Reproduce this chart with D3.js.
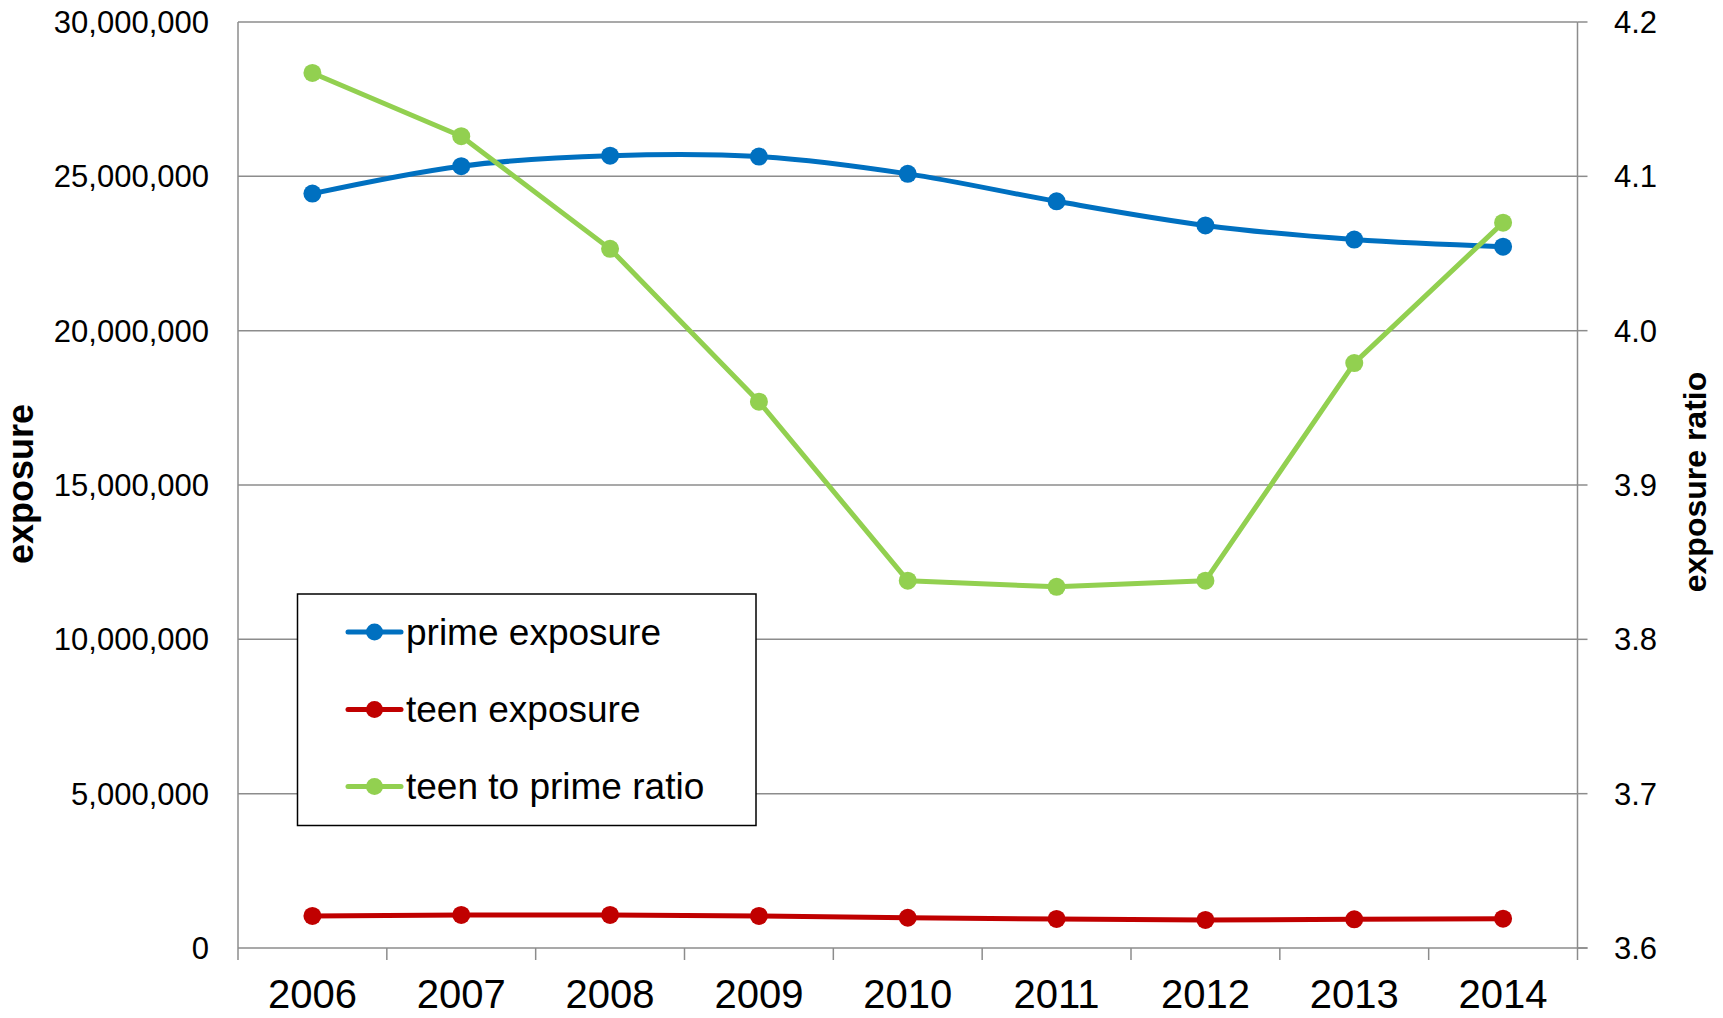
<!DOCTYPE html>
<html>
<head>
<meta charset="utf-8">
<script src="https://cdn.jsdelivr.net/npm/d3@7"></script>
<style>
  html, body { margin: 0; padding: 0; background: #fff; }
  svg { display: block; font-family: "Liberation Sans", Arial, sans-serif; }
</style>
</head>
<body>
<svg id="chart" width="1723" height="1018"></svg>
<script>
const years = ["2006","2007","2008","2009","2010","2011","2012","2013","2014"];
const primeExposure = [24440000, 25330000, 25670000, 25640000, 25080000, 24190000, 23410000, 22950000, 22720000];
const teenExposure  = [1040000, 1070000, 1070000, 1040000, 980000, 940000, 910000, 930000, 950000];
const teenPrimeRatio = [4.167, 4.126, 4.053, 3.954, 3.838, 3.834, 3.838, 3.979, 4.070];
const leftTicks = [0, 5000000, 10000000, 15000000, 20000000, 25000000, 30000000];
const rightTicks = [3.6, 3.7, 3.8, 3.9, 4.0, 4.1, 4.2];
const seriesNames = ["prime exposure", "teen exposure", "teen to prime ratio"];
const seriesColors = ["#0070C0", "#C00000", "#92D050"];

const svg = d3.select("#chart");
const L = 238, R = 1577.5, T = 22, B = 948;

const x = d3.scaleBand().domain(years).range([L, R]).paddingInner(0).paddingOuter(0);
const yL = d3.scaleLinear().domain([0, 30000000]).range([B, T]);
const yR = d3.scaleLinear().domain([3.6, 4.2]).range([B, T]);
const cx = d => x(d) + x.bandwidth() / 2;

const gridColor = "#8c8c8c";

// gridlines
svg.append("g").selectAll("line").data(leftTicks.filter(v => v > 0)).join("line")
  .attr("x1", L).attr("x2", R)
  .attr("y1", d => yL(d)).attr("y2", d => yL(d))
  .attr("stroke", gridColor).attr("stroke-width", 1.5);

// left axis line
svg.append("line").attr("x1", L).attr("x2", L).attr("y1", T).attr("y2", B)
  .attr("stroke", gridColor).attr("stroke-width", 1.5);
// right axis line
svg.append("line").attr("x1", R).attr("x2", R).attr("y1", T).attr("y2", B)
  .attr("stroke", gridColor).attr("stroke-width", 1.5);
// right axis ticks
svg.append("g").selectAll("line").data(rightTicks).join("line")
  .attr("x1", R).attr("x2", R + 10)
  .attr("y1", d => yR(d)).attr("y2", d => yR(d))
  .attr("stroke", gridColor).attr("stroke-width", 1.5);
// bottom axis
svg.append("line").attr("x1", L).attr("x2", R + 10).attr("y1", B).attr("y2", B)
  .attr("stroke", gridColor).attr("stroke-width", 1.5);
const boundaries = years.map(y => x(y)).concat([R]);
svg.append("g").selectAll("line").data(boundaries).join("line")
  .attr("x1", d => d).attr("x2", d => d)
  .attr("y1", B).attr("y2", B + 12)
  .attr("stroke", gridColor).attr("stroke-width", 1.5);

// left tick labels
const fmt = d3.format(",");
svg.append("g").selectAll("text").data(leftTicks).join("text")
  .attr("x", 209).attr("y", d => yL(d) + 11)
  .attr("text-anchor", "end").attr("font-size", 31).attr("fill", "#000")
  .text(d => fmt(d));
// right tick labels
svg.append("g").selectAll("text").data(rightTicks).join("text")
  .attr("x", 1614).attr("y", d => yR(d) + 11)
  .attr("text-anchor", "start").attr("font-size", 31).attr("fill", "#000")
  .text(d => d.toFixed(1));
// x labels
svg.append("g").selectAll("text").data(years).join("text")
  .attr("x", d => cx(d)).attr("y", 1008)
  .attr("text-anchor", "middle").attr("font-size", 40).attr("fill", "#000")
  .text(d => d);

// axis titles
svg.append("text")
  .attr("transform", `translate(33,484) rotate(-90)`)
  .attr("text-anchor", "middle").attr("font-size", 36).attr("font-weight", "bold")
  .text("exposure");
svg.append("text")
  .attr("transform", `translate(1706,482) rotate(-90)`)
  .attr("text-anchor", "middle").attr("font-size", 32).attr("font-weight", "bold")
  .text("exposure ratio");

// series
const series = [
  { vals: primeExposure, scale: yL, color: seriesColors[0], curve: d3.curveCatmullRom.alpha(0.5) },
  { vals: teenExposure, scale: yL, color: seriesColors[1], curve: d3.curveLinear },
  { vals: teenPrimeRatio, scale: yR, color: seriesColors[2], curve: d3.curveLinear }
];
series.forEach(s => {
  const line = d3.line().x((d, i) => cx(years[i])).y(d => s.scale(d)).curve(s.curve);
  svg.append("path").datum(s.vals).attr("d", line)
    .attr("fill", "none").attr("stroke", s.color).attr("stroke-width", 5)
    .attr("stroke-linejoin", "round").attr("stroke-linecap", "round");
  svg.append("g").selectAll("circle").data(s.vals).join("circle")
    .attr("cx", (d, i) => cx(years[i])).attr("cy", d => s.scale(d))
    .attr("r", 9).attr("fill", s.color);
});

// legend
const lg = svg.append("g");
lg.append("rect").attr("x", 297.5).attr("y", 594).attr("width", 458.5).attr("height", 231.5)
  .attr("fill", "#fff").attr("stroke", "#000").attr("stroke-width", 1.5);
const rowsY = [632, 709.5, 786.5];
seriesNames.forEach((name, i) => {
  lg.append("line").attr("x1", 348).attr("x2", 401).attr("y1", rowsY[i]).attr("y2", rowsY[i])
    .attr("stroke", seriesColors[i]).attr("stroke-width", 5).attr("stroke-linecap", "round");
  lg.append("circle").attr("cx", 374.5).attr("cy", rowsY[i]).attr("r", 8.5).attr("fill", seriesColors[i]);
  lg.append("text").attr("x", 406).attr("y", rowsY[i] + 12.5)
    .attr("font-size", 37).attr("fill", "#000").text(name);
});
</script>
</body>
</html>
